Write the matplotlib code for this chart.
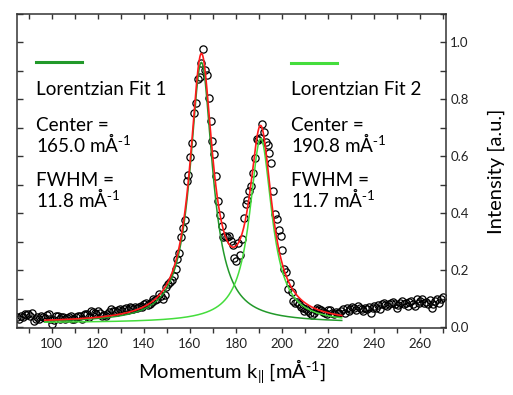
import numpy as np
import matplotlib
matplotlib.use("Agg")
import matplotlib.pyplot as plt
from matplotlib.lines import Line2D
from matplotlib.ticker import MultipleLocator

plt.rcParams['font.family'] = ['Lato', 'DejaVu Sans']
plt.rcParams['mathtext.default'] = 'regular'

# measured data (momentum in 1/mÅ, intensity in a.u.)
k = [85.0, 85.8, 86.6, 87.4, 88.2, 89.0, 89.8, 90.6, 91.4, 92.2, 93.0, 93.8, 94.6, 95.4, 96.2, 97.0,
     97.8, 98.6, 99.4, 100.2, 101.0, 101.8, 102.6, 103.4, 104.2, 105.0, 105.8, 106.6, 107.4, 108.2, 109.0, 109.8,
     110.6, 111.4, 112.2, 113.0, 113.8, 114.6, 115.4, 116.2, 117.0, 117.8, 118.6, 119.4, 120.2, 121.0, 121.8, 122.6,
     123.4, 124.2, 125.0, 125.8, 126.6, 127.4, 128.2, 129.0, 129.8, 130.6, 131.4, 132.2, 133.0, 133.8, 134.6, 135.4,
     136.2, 137.0, 137.8, 138.6, 139.4, 140.2, 141.0, 141.8, 142.6, 143.4, 144.2, 145.0, 145.8, 146.6, 147.4, 148.2,
     149.0, 149.8,
     150.6, 151.4, 152.2, 153.0, 153.8, 154.6, 155.4, 156.2, 157.0, 157.8, 158.6, 159.4,
     160.2, 161.0, 161.8, 162.6, 163.4, 164.2, 165.0, 165.8, 166.6, 167.4, 168.2, 169.0, 169.8, 170.6, 171.4, 172.2,
     173.0, 173.8, 174.6, 175.4, 176.2, 177.0, 177.8, 178.6, 179.4, 180.2, 181.0, 181.8, 182.6, 183.4,
     184.2, 185.0, 185.8, 186.6, 187.4, 188.2, 189.0, 189.8, 190.6, 191.4, 192.2, 193.0, 193.8, 194.6, 195.4, 196.2,
     197.0, 197.8, 198.6, 199.4,
     200.2, 201.0, 201.8, 202.6, 203.4, 204.2, 205.0, 205.8, 206.6, 207.4, 208.2, 209.0, 209.8, 210.6, 211.4, 212.2,
     213.0, 213.8, 214.6, 215.4, 216.2, 217.0, 217.8, 218.6, 219.4, 220.2,
     221.0, 221.8, 222.6, 223.4, 224.2, 225.0, 225.8, 226.6, 227.4, 228.2, 229.0, 229.8, 230.6, 231.4, 232.2, 233.0,
     233.8, 234.6, 235.4, 236.2, 237.0, 237.8, 238.6, 239.4, 240.2, 241.0, 241.8, 242.6, 243.4, 244.2, 245.0, 245.8,
     246.6, 247.4, 248.2, 249.0, 249.8, 250.6, 251.4, 252.2, 253.0, 253.8, 254.6, 255.4, 256.2, 257.0, 257.8, 258.6,
     259.4, 260.2, 261.0, 261.8, 262.6, 263.4, 264.2, 265.0, 265.8, 266.6, 267.4, 268.2, 269.0, 269.8]

intensity = [0.034, 0.030, 0.040, 0.036, 0.045, 0.042, 0.046, 0.038, 0.051, 0.022, 0.030, 0.034, 0.028, 0.040, 0.036, 0.032,
             0.044, 0.045, 0.030, 0.012, 0.025, 0.040, 0.038, 0.030, 0.036, 0.034, 0.028, 0.032, 0.034, 0.040, 0.030, 0.028,
             0.034, 0.040, 0.038, 0.030, 0.042, 0.045, 0.046, 0.036, 0.055, 0.052, 0.050, 0.046, 0.058, 0.050, 0.040, 0.044,
             0.038, 0.046, 0.052, 0.063, 0.056, 0.058, 0.052, 0.060, 0.064, 0.056, 0.062, 0.066, 0.060, 0.070, 0.068, 0.064,
             0.070, 0.066, 0.072, 0.076, 0.070, 0.080, 0.086, 0.078, 0.082, 0.090, 0.098, 0.094, 0.100, 0.115, 0.108, 0.098,
             0.112, 0.142,
             0.150, 0.158, 0.165, 0.178, 0.205, 0.238, 0.262, 0.316, 0.349, 0.375, 0.514, 0.535,
             0.597, 0.646, 0.751, 0.788, 0.872, 0.879, 0.929, 0.976, 0.902, 0.885, 0.805, 0.725, 0.654, 0.608, 0.531, 0.444,
             0.395, 0.354, 0.316, 0.320, 0.315, 0.319, 0.302, 0.290, 0.244, 0.232, 0.296, 0.255, 0.310, 0.383,
             0.434, 0.448, 0.477, 0.497, 0.540, 0.593, 0.660, 0.657, 0.664, 0.713, 0.686, 0.651, 0.640, 0.611, 0.576, 0.477,
             0.398, 0.380, 0.340, 0.319,
             0.270, 0.205, 0.193, 0.133, 0.156, 0.124, 0.092, 0.084, 0.088, 0.080, 0.072, 0.069, 0.057, 0.063, 0.058, 0.051,
             0.042, 0.048, 0.060, 0.066, 0.062, 0.059, 0.052, 0.051, 0.046, 0.059,
             0.059, 0.050, 0.045, 0.052, 0.048, 0.051, 0.057, 0.062, 0.051, 0.066, 0.058, 0.063, 0.072, 0.069, 0.060, 0.074,
             0.066, 0.063, 0.057, 0.068, 0.063, 0.072, 0.051, 0.066, 0.075, 0.069, 0.077, 0.063, 0.080, 0.086, 0.078, 0.074,
             0.082, 0.086, 0.090, 0.080, 0.069, 0.078, 0.086, 0.092, 0.080, 0.085, 0.074, 0.088, 0.092, 0.080, 0.074, 0.100,
             0.086, 0.092, 0.098, 0.086, 0.090, 0.080, 0.094, 0.069, 0.082, 0.092, 0.098, 0.086, 0.100, 0.106]

# Lorentzian fit parameters
center1, fwhm1, amp1 = 165.0, 11.8, 0.915
center2, fwhm2, amp2 = 190.8, 11.7, 0.648
offset = 0.015
fit_range = (97.0, 226.0)

col_fit1 = '#22992a'
col_fit2 = '#44dd3c'
col_sum = '#ff1a1a'


def lorentz(x, c, w, a):
    g = w / 2.0
    return a * g**2 / ((x - c)**2 + g**2)


kf = np.linspace(fit_range[0], fit_range[1], 600)
l1 = lorentz(kf, center1, fwhm1, amp1)
l2 = lorentz(kf, center2, fwhm2, amp2)

W, H = 513, 395
fig = plt.figure(figsize=(W / 100, H / 100), dpi=100)
ax = fig.add_axes([17 / W, 1 - 328 / H, (446 - 17) / W, (328 - 14) / H])

ax.plot(k, intensity, 'o', mfc='none', mec='black', ms=5.2, mew=0.9, zorder=2)
ax.plot(kf, l1 + offset, color=col_fit1, lw=1.1, zorder=3)
ax.plot(kf, l2 + offset, color=col_fit2, lw=1.1, zorder=3)
ax.plot(kf, l1 + l2 + offset, color=col_sum, lw=1.2, zorder=4)

ax.set_xlim(84.9, 271.3)
ax.set_ylim(-0.003, 1.1)

spine_col = '#333333'
for s in ax.spines.values():
    s.set_color(spine_col)
    s.set_linewidth(1.1)

ax.xaxis.set_major_locator(MultipleLocator(20))
ax.xaxis.set_minor_locator(MultipleLocator(10))
ax.yaxis.set_major_locator(MultipleLocator(0.2))
ax.yaxis.set_minor_locator(MultipleLocator(0.1))
ax.yaxis.tick_right()
ax.yaxis.set_label_position('right')
ax.tick_params(axis='x', which='both', direction='out', length=3.5, width=1, color=spine_col,
               top=False, bottom=True, labelsize=9.5, pad=4, labelcolor='#222222')
ax.tick_params(axis='y', which='both', direction='in', length=4.5, width=1, color=spine_col,
               left=True, right=True, labelleft=False, labelright=True, labelsize=9.5, pad=3,
               labelcolor='#222222')
ax.yaxis.set_major_formatter(matplotlib.ticker.FormatStrFormatter('%.1f'))

# inward ticks along the top edge
top = ax.secondary_xaxis('top')
top.xaxis.set_major_locator(MultipleLocator(10))
top.tick_params(axis='x', direction='in', length=3.5, width=1, color=spine_col, labeltop=False)
top.spines['top'].set_visible(False)

sup = r'$^{\text{-}1}$'
ax.set_xlabel('Momentum k$_{\\Vert}$ [mÅ' + sup + ']', fontsize=14.5, labelpad=5)
ax.set_ylabel('Intensity [a.u.]', fontsize=14.5, labelpad=14)

# annotation blocks
fs = 13.6


def block(x0, name, color, ly, c, w):
    fig.add_artist(Line2D([x0 / W, (x0 + 46) / W], [1 - ly / H, 1 - ly / H], color=color, lw=2.2))
    fig.text(x0 / W, 1 - 95 / H, name, fontsize=fs, va='baseline')
    # baseline refers to the second line of each two-line text
    fig.text(x0 / W, 1 - 151.5 / H, 'Center =\n' + f'{c:.1f} mÅ' + sup,
             fontsize=fs, va='baseline', linespacing=0.89)
    fig.text(x0 / W, 1 - 207 / H, 'FWHM =\n' + f'{w:.1f} mÅ' + sup,
             fontsize=fs, va='baseline', linespacing=0.89)


block(36, 'Lorentzian Fit 1', col_fit1, 61.5, center1, fwhm1)
block(291, 'Lorentzian Fit 2', col_fit2, 63, center2, fwhm2)

fig.savefig('out.png', dpi=100)
